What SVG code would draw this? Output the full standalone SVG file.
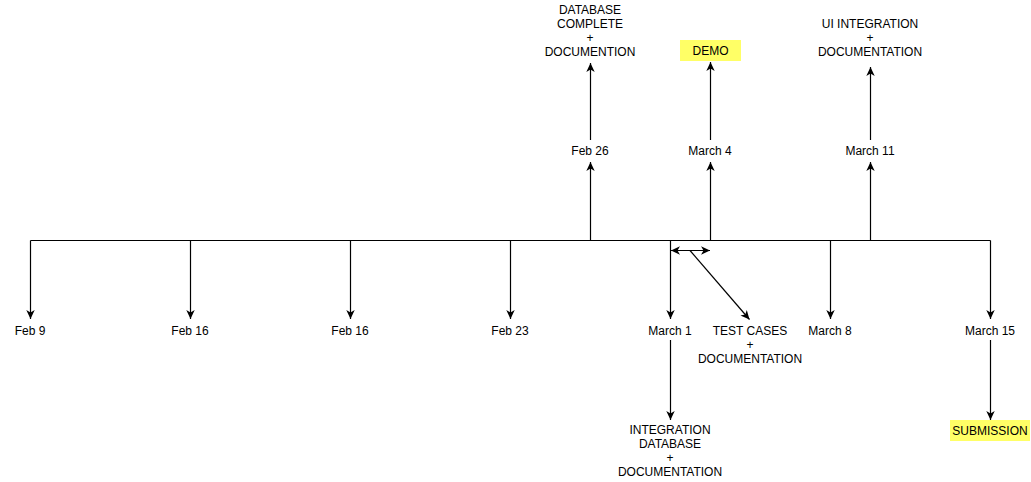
<svg xmlns="http://www.w3.org/2000/svg" width="1031" height="482" viewBox="0 0 1031 482">
<style>
  .ln{stroke:#000;stroke-width:1.2;fill:none}
  .arr{marker-end:url(#ah)}
  .t{font-family:"Liberation Sans",Arial,sans-serif;font-size:12px;fill:#000;text-anchor:middle}
  .hl{fill:#ffff66;stroke:none}
</style>
<defs>
  <marker id="ah" viewBox="-10 -5 11 10" refX="0" refY="0" markerWidth="11" markerHeight="10" markerUnits="userSpaceOnUse" orient="auto-start-reverse">
    <path d="M0,0 L-9,-4.2 L-6.5,0 L-9,4.2 Z" fill="#000"/>
  </marker>
</defs>
<rect width="1031" height="482" fill="#fff"/>
<g id="connectors">
  <path class="ln" d="M30.5,240.5 H990.5"/>
  <path class="ln arr" d="M30.5,240.5 V319"/>
  <path class="ln arr" d="M190.5,240.5 V319"/>
  <path class="ln arr" d="M350.5,240.5 V319"/>
  <path class="ln arr" d="M510.5,240.5 V319"/>
  <path class="ln arr" d="M670.5,240.5 V319"/>
  <path class="ln arr" d="M830.5,240.5 V319"/>
  <path class="ln arr" d="M990.5,240.5 V319"/>
  <path class="ln arr" d="M590.5,240.5 V162"/>
  <path class="ln arr" d="M710.5,240.5 V162"/>
  <path class="ln arr" d="M870.5,240.5 V162"/>
  <path class="ln arr" d="M590.5,140 V63"/>
  <path class="ln arr" d="M710.5,140 V62"/>
  <path class="ln arr" d="M870.5,140 V67"/>
  <path class="ln arr" d="M670.5,340 V420"/>
  <path class="ln arr" d="M990.5,340 V420"/>
  <path class="ln" d="M671,250.5 H710" marker-start="url(#ah)" marker-end="url(#ah)"/>
  <path class="ln arr" d="M690,250.5 L749.5,319.5"/>
</g>
<g id="feb9"><text class="t" x="30" y="335">Feb 9</text></g>
<g id="feb16a"><text class="t" x="190" y="335">Feb 16</text></g>
<g id="feb16b"><text class="t" x="350" y="335">Feb 16</text></g>
<g id="feb23"><text class="t" x="510" y="335">Feb 23</text></g>
<g id="march1"><text class="t" x="670" y="335">March 1</text></g>
<g id="march8"><text class="t" x="830" y="335">March 8</text></g>
<g id="march15"><text class="t" x="990" y="335">March 15</text></g>
<g id="feb26"><text class="t" x="590" y="155">Feb 26</text></g>
<g id="march4"><text class="t" x="710" y="155">March 4</text></g>
<g id="march11"><text class="t" x="870" y="155">March 11</text></g>
<g id="dbcomplete">
  <text class="t" x="590" y="14">DATABASE</text>
  <text class="t" x="590" y="28">COMPLETE</text>
  <text class="t" x="590" y="42">+</text>
  <text class="t" x="590" y="56">DOCUMENTION</text>
</g>
<g id="demo">
  <rect class="hl" x="680" y="40" width="61" height="21"/>
  <text class="t" x="710.5" y="55">DEMO</text>
</g>
<g id="uiint">
  <text class="t" x="870" y="28">UI INTEGRATION</text>
  <text class="t" x="870" y="42">+</text>
  <text class="t" x="870" y="56">DOCUMENTATION</text>
</g>
<g id="testcases">
  <text class="t" x="750" y="335">TEST CASES</text>
  <text class="t" x="750" y="349">+</text>
  <text class="t" x="750" y="363">DOCUMENTATION</text>
</g>
<g id="intdb">
  <text class="t" x="670" y="434">INTEGRATION</text>
  <text class="t" x="670" y="448">DATABASE</text>
  <text class="t" x="670" y="462">+</text>
  <text class="t" x="670" y="476">DOCUMENTATION</text>
</g>
<g id="submission">
  <rect class="hl" x="950" y="420" width="80" height="21"/>
  <text class="t" x="990" y="435">SUBMISSION</text>
</g>
</svg>
